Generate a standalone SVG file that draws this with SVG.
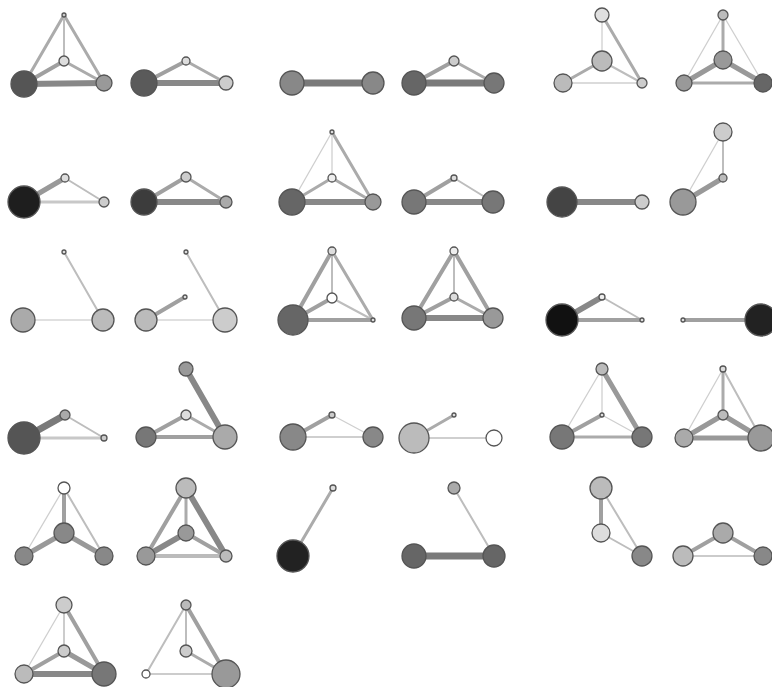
<svg xmlns="http://www.w3.org/2000/svg" width="772" height="687" viewBox="0 0 772 687">
<style>
line{stroke-linecap:round;fill:none}
.e1{stroke:#cfcfcf;stroke-width:1.3}
.e2{stroke:#bdbdbd;stroke-width:2}
.e3{stroke:#ababab;stroke-width:3}
.e4{stroke:#a0a0a0;stroke-width:4}
.e5{stroke:#999;stroke-width:5}
.e6{stroke:#888;stroke-width:6}
.e7{stroke:#7a7a7a;stroke-width:7}
circle{stroke:#555;stroke-width:1.3}
</style>
<rect width="772" height="687" fill="#fff"/>
<g id="connectors">
<!-- 1a -->
<line class="e6" x1="24" y1="84" x2="104" y2="83"/><line class="e3" x1="24" y1="84" x2="64" y2="15"/><line class="e3" x1="64" y1="15" x2="104" y2="83"/><line class="e2" x1="64" y1="15" x2="64" y2="61"/><line class="e4" x1="24" y1="84" x2="64" y2="61"/><line class="e3" x1="64" y1="61" x2="104" y2="83"/>
<!-- 1b -->
<line class="e6" x1="144" y1="83" x2="226" y2="83"/><line class="e4" x1="144" y1="83" x2="186" y2="61"/><line class="e3" x1="186" y1="61" x2="226" y2="83"/>
<!-- 1c -->
<line class="e7" x1="292" y1="83" x2="373" y2="83"/>
<!-- 1d -->
<line class="e7" x1="414" y1="83" x2="494" y2="83"/><line class="e4" x1="414" y1="83" x2="454" y2="61"/><line class="e3" x1="454" y1="61" x2="494" y2="83"/>
<!-- 1e -->
<line class="e1" x1="602" y1="15" x2="602" y2="61"/><line class="e3" x1="602" y1="15" x2="642" y2="83"/><line class="e3" x1="602" y1="61" x2="563" y2="83"/><line class="e2" x1="602" y1="61" x2="642" y2="83"/><line class="e1" x1="563" y1="83" x2="642" y2="83"/>
<!-- 1f -->
<line class="e1" x1="723" y1="15" x2="684" y2="83"/><line class="e1" x1="723" y1="15" x2="763" y2="83"/><line class="e3" x1="723" y1="15" x2="723" y2="60"/><line class="e5" x1="723" y1="60" x2="684" y2="83"/><line class="e5" x1="723" y1="60" x2="763" y2="83"/><line class="e3" x1="684" y1="83" x2="763" y2="83"/>
<!-- 2a -->
<line class="e5" x1="24" y1="202" x2="65" y2="178"/><line class="e2" x1="65" y1="178" x2="104" y2="202"/><line class="e3" x1="24" y1="202" x2="104" y2="202" style="stroke:#c8c8c8"/>
<!-- 2b -->
<line class="e6" x1="144" y1="202" x2="226" y2="202"/><line class="e4" x1="144" y1="202" x2="186" y2="177"/><line class="e3" x1="186" y1="177" x2="226" y2="202"/>
<!-- 2c -->
<line class="e1" x1="332" y1="132" x2="292" y2="202"/><line class="e3" x1="332" y1="132" x2="373" y2="202"/><line class="e1" x1="332" y1="132" x2="332" y2="178"/><line class="e3" x1="292" y1="202" x2="332" y2="178"/><line class="e3" x1="332" y1="178" x2="373" y2="202"/><line class="e6" x1="292" y1="202" x2="373" y2="202"/>
<!-- 2d -->
<line class="e6" x1="414" y1="202" x2="493" y2="202"/><line class="e4" x1="414" y1="202" x2="454" y2="178"/><line class="e2" x1="454" y1="178" x2="493" y2="202"/>
<!-- 2e -->
<line class="e6" x1="562" y1="202" x2="642" y2="202"/>
<!-- 2f -->
<line class="e1" x1="723" y1="132" x2="683" y2="202"/><line class="e2" x1="723" y1="132" x2="723" y2="178"/><line class="e5" x1="683" y1="202" x2="723" y2="178"/>
<!-- 3a -->
<line class="e2" x1="23" y1="320" x2="103" y2="320" style="stroke:#e0e0e0"/><line class="e2" x1="64" y1="252" x2="103" y2="320"/>
<!-- 3b -->
<line class="e2" x1="146" y1="320" x2="225" y2="320" style="stroke:#e0e0e0"/><line class="e2" x1="186" y1="252" x2="225" y2="320"/><line class="e4" x1="146" y1="320" x2="185" y2="297"/>
<!-- 3c -->
<line class="e4" x1="332" y1="251" x2="293" y2="320"/><line class="e3" x1="332" y1="251" x2="373" y2="320"/><line class="e2" x1="332" y1="251" x2="332" y2="298"/><line class="e4" x1="293" y1="320" x2="332" y2="298"/><line class="e2" x1="332" y1="298" x2="373" y2="320"/><line class="e4" x1="293" y1="320" x2="373" y2="320"/>
<!-- 3d -->
<line class="e4" x1="454" y1="251" x2="414" y2="318"/><line class="e4" x1="454" y1="251" x2="493" y2="318"/><line class="e2" x1="454" y1="251" x2="454" y2="297"/><line class="e4" x1="414" y1="318" x2="454" y2="297"/><line class="e3" x1="454" y1="297" x2="493" y2="318"/><line class="e6" x1="414" y1="318" x2="493" y2="318"/>
<!-- 3e -->
<line class="e6" x1="562" y1="320" x2="602" y2="297"/><line class="e2" x1="602" y1="297" x2="642" y2="320"/><line class="e4" x1="562" y1="320" x2="642" y2="320"/>
<!-- 3f -->
<line class="e4" x1="683" y1="320" x2="761" y2="320"/>
<!-- 4a -->
<line class="e7" x1="24" y1="438" x2="65" y2="415"/><line class="e2" x1="65" y1="415" x2="104" y2="438"/><line class="e3" x1="24" y1="438" x2="104" y2="438" style="stroke:#c8c8c8"/>
<!-- 4b -->
<line class="e6" x1="186" y1="369" x2="225" y2="437"/><line class="e4" x1="146" y1="437" x2="186" y2="415"/><line class="e3" x1="186" y1="415" x2="225" y2="437"/><line class="e4" x1="146" y1="437" x2="225" y2="437"/>
<!-- 4c -->
<line class="e4" x1="293" y1="437" x2="332" y2="415"/><line class="e1" x1="332" y1="415" x2="373" y2="437"/><line class="e2" x1="293" y1="437" x2="373" y2="437" style="stroke:#cfcfcf"/>
<!-- 4d -->
<line class="e3" x1="414" y1="438" x2="454" y2="415"/><line class="e2" x1="414" y1="438" x2="494" y2="438" style="stroke:#cfcfcf"/>
<!-- 4e -->
<line class="e1" x1="602" y1="369" x2="562" y2="437"/><line class="e5" x1="602" y1="369" x2="642" y2="437"/><line class="e1" x1="602" y1="369" x2="602" y2="415"/><line class="e4" x1="562" y1="437" x2="602" y2="415"/><line class="e1" x1="602" y1="415" x2="642" y2="437"/><line class="e3" x1="562" y1="437" x2="642" y2="437"/>
<!-- 4f -->
<line class="e1" x1="723" y1="369" x2="684" y2="438"/><line class="e2" x1="723" y1="369" x2="761" y2="438"/><line class="e3" x1="723" y1="369" x2="723" y2="415"/><line class="e5" x1="684" y1="438" x2="723" y2="415"/><line class="e5" x1="723" y1="415" x2="761" y2="438"/><line class="e5" x1="684" y1="438" x2="761" y2="438"/>
<!-- 5a -->
<line class="e1" x1="64" y1="488" x2="24" y2="556"/><line class="e2" x1="64" y1="488" x2="104" y2="556"/><line class="e4" x1="64" y1="488" x2="64" y2="533"/><line class="e5" x1="64" y1="533" x2="24" y2="556"/><line class="e5" x1="64" y1="533" x2="104" y2="556"/>
<!-- 5b -->
<line class="e4" x1="186" y1="488" x2="146" y2="556"/><line class="e6" x1="186" y1="488" x2="226" y2="556"/><line class="e3" x1="186" y1="488" x2="186" y2="533"/><line class="e6" x1="186" y1="533" x2="146" y2="556"/><line class="e4" x1="186" y1="533" x2="226" y2="556"/><line class="e4" x1="146" y1="556" x2="226" y2="556" style="stroke:#bbb"/>
<!-- 5c -->
<line class="e3" x1="333" y1="488" x2="293" y2="556"/>
<!-- 5d -->
<line class="e7" x1="414" y1="556" x2="494" y2="556"/><line class="e2" x1="454" y1="488" x2="494" y2="556"/>
<!-- 5e -->
<line class="e4" x1="601" y1="488" x2="601" y2="533"/><line class="e2" x1="601" y1="488" x2="642" y2="556"/><line class="e2" x1="601" y1="533" x2="642" y2="556"/>
<!-- 5f -->
<line class="e4" x1="683" y1="556" x2="723" y2="533"/><line class="e4" x1="723" y1="533" x2="763" y2="556"/><line class="e1" x1="683" y1="556" x2="763" y2="556" style="stroke:#bbb"/>
<!-- 6a -->
<line class="e1" x1="64" y1="605" x2="24" y2="674"/><line class="e4" x1="64" y1="605" x2="104" y2="674"/><line class="e2" x1="64" y1="605" x2="64" y2="651" style="stroke:#ccc"/><line class="e4" x1="24" y1="674" x2="64" y2="651"/><line class="e5" x1="64" y1="651" x2="104" y2="674"/><line class="e6" x1="24" y1="674" x2="104" y2="674"/>
<!-- 6b -->
<line class="e2" x1="186" y1="605" x2="146" y2="674"/><line class="e4" x1="186" y1="605" x2="226" y2="674"/><line class="e2" x1="186" y1="605" x2="186" y2="651"/><line class="e3" x1="186" y1="651" x2="226" y2="674"/><line class="e2" x1="146" y1="674" x2="226" y2="674" style="stroke:#ccc"/>
</g>
<!-- nodes -->
<g id="n1a-1"><circle cx="24" cy="84" r="13" fill="#555"/></g>
<g id="n1a-2"><circle cx="104" cy="83" r="8" fill="#999"/></g>
<g id="n1a-3"><circle cx="64" cy="61" r="5" fill="#ddd"/></g>
<g id="n1a-4"><circle cx="64" cy="15" r="2" fill="#ccc"/></g>
<g id="n1b-1"><circle cx="144" cy="83" r="13" fill="#5a5a5a"/></g>
<g id="n1b-2"><circle cx="186" cy="61" r="4" fill="#ddd"/></g>
<g id="n1b-3"><circle cx="226" cy="83" r="7" fill="#ccc"/></g>
<g id="n1c-1"><circle cx="292" cy="83" r="12" fill="#888"/></g>
<g id="n1c-2"><circle cx="373" cy="83" r="11" fill="#888"/></g>
<g id="n1d-1"><circle cx="414" cy="83" r="12" fill="#666"/></g>
<g id="n1d-2"><circle cx="494" cy="83" r="10" fill="#777"/></g>
<g id="n1d-3"><circle cx="454" cy="61" r="5" fill="#ccc"/></g>
<g id="n1e-1"><circle cx="602" cy="15" r="7" fill="#e0e0e0"/></g>
<g id="n1e-2"><circle cx="602" cy="61" r="10" fill="#bbb"/></g>
<g id="n1e-3"><circle cx="563" cy="83" r="9" fill="#bbb"/></g>
<g id="n1e-4"><circle cx="642" cy="83" r="5" fill="#ccc"/></g>
<g id="n1f-1"><circle cx="723" cy="15" r="5" fill="#bbb"/></g>
<g id="n1f-2"><circle cx="723" cy="60" r="9" fill="#999"/></g>
<g id="n1f-3"><circle cx="684" cy="83" r="8" fill="#999"/></g>
<g id="n1f-4"><circle cx="763" cy="83" r="9" fill="#666"/></g>
<g id="n2a-1"><circle cx="24" cy="202" r="16" fill="#1e1e1e"/></g>
<g id="n2a-2"><circle cx="65" cy="178" r="4" fill="#ddd"/></g>
<g id="n2a-3"><circle cx="104" cy="202" r="5" fill="#ccc"/></g>
<g id="n2b-1"><circle cx="144" cy="202" r="13" fill="#3c3c3c"/></g>
<g id="n2b-2"><circle cx="186" cy="177" r="5" fill="#ccc"/></g>
<g id="n2b-3"><circle cx="226" cy="202" r="6" fill="#aaa"/></g>
<g id="n2c-1"><circle cx="292" cy="202" r="13" fill="#666"/></g>
<g id="n2c-2"><circle cx="373" cy="202" r="8" fill="#999"/></g>
<g id="n2c-3"><circle cx="332" cy="178" r="4" fill="#eee"/></g>
<g id="n2c-4"><circle cx="332" cy="132" r="2" fill="#ddd"/></g>
<g id="n2d-1"><circle cx="414" cy="202" r="12" fill="#777"/></g>
<g id="n2d-2"><circle cx="493" cy="202" r="11" fill="#777"/></g>
<g id="n2d-3"><circle cx="454" cy="178" r="3" fill="#ddd"/></g>
<g id="n2e-1"><circle cx="562" cy="202" r="15" fill="#444"/></g>
<g id="n2e-2"><circle cx="642" cy="202" r="7" fill="#ccc"/></g>
<g id="n2f-1"><circle cx="723" cy="132" r="9" fill="#ccc"/></g>
<g id="n2f-2"><circle cx="723" cy="178" r="4" fill="#bbb"/></g>
<g id="n2f-3"><circle cx="683" cy="202" r="13" fill="#999"/></g>
<g id="n3a-1"><circle cx="23" cy="320" r="12" fill="#aaa"/></g>
<g id="n3a-2"><circle cx="103" cy="320" r="11" fill="#bbb"/></g>
<g id="n3a-3"><circle cx="64" cy="252" r="2" fill="#ddd"/></g>
<g id="n3b-1"><circle cx="146" cy="320" r="11" fill="#bbb"/></g>
<g id="n3b-2"><circle cx="225" cy="320" r="12" fill="#ccc"/></g>
<g id="n3b-3"><circle cx="186" cy="252" r="2" fill="#ddd"/></g>
<g id="n3b-4"><circle cx="185" cy="297" r="2" fill="#ddd"/></g>
<g id="n3c-1"><circle cx="293" cy="320" r="15" fill="#666"/></g>
<g id="n3c-2"><circle cx="373" cy="320" r="2" fill="#ddd"/></g>
<g id="n3c-3"><circle cx="332" cy="251" r="4" fill="#ddd"/></g>
<g id="n3c-4"><circle cx="332" cy="298" r="5" fill="#fff"/></g>
<g id="n3d-1"><circle cx="414" cy="318" r="12" fill="#777"/></g>
<g id="n3d-2"><circle cx="493" cy="318" r="10" fill="#999"/></g>
<g id="n3d-3"><circle cx="454" cy="251" r="4" fill="#eee"/></g>
<g id="n3d-4"><circle cx="454" cy="297" r="4" fill="#ddd"/></g>
<g id="n3e-1"><circle cx="562" cy="320" r="16" fill="#111"/></g>
<g id="n3e-2"><circle cx="602" cy="297" r="3" fill="#eee"/></g>
<g id="n3e-3"><circle cx="642" cy="320" r="2" fill="#ddd"/></g>
<g id="n3f-1"><circle cx="761" cy="320" r="16" fill="#222"/></g>
<g id="n3f-2"><circle cx="683" cy="320" r="2" fill="#ddd"/></g>
<g id="n4a-1"><circle cx="24" cy="438" r="16" fill="#555"/></g>
<g id="n4a-2"><circle cx="65" cy="415" r="5" fill="#aaa"/></g>
<g id="n4a-3"><circle cx="104" cy="438" r="3" fill="#ccc"/></g>
<g id="n4b-1"><circle cx="146" cy="437" r="10" fill="#777"/></g>
<g id="n4b-2"><circle cx="225" cy="437" r="12" fill="#aaa"/></g>
<g id="n4b-3"><circle cx="186" cy="415" r="5" fill="#ddd"/></g>
<g id="n4b-4"><circle cx="186" cy="369" r="7" fill="#999"/></g>
<g id="n4c-1"><circle cx="293" cy="437" r="13" fill="#888"/></g>
<g id="n4c-2"><circle cx="373" cy="437" r="10" fill="#888"/></g>
<g id="n4c-3"><circle cx="332" cy="415" r="3" fill="#ccc"/></g>
<g id="n4d-1"><circle cx="414" cy="438" r="15" fill="#bbb"/></g>
<g id="n4d-2"><circle cx="454" cy="415" r="2" fill="#ddd"/></g>
<g id="n4d-3"><circle cx="494" cy="438" r="8" fill="#fff"/></g>
<g id="n4e-1"><circle cx="602" cy="369" r="6" fill="#bbb"/></g>
<g id="n4e-2"><circle cx="602" cy="415" r="2" fill="#ddd"/></g>
<g id="n4e-3"><circle cx="562" cy="437" r="12" fill="#777"/></g>
<g id="n4e-4"><circle cx="642" cy="437" r="10" fill="#777"/></g>
<g id="n4f-1"><circle cx="723" cy="369" r="3" fill="#ddd"/></g>
<g id="n4f-2"><circle cx="723" cy="415" r="5" fill="#bbb"/></g>
<g id="n4f-3"><circle cx="684" cy="438" r="9" fill="#aaa"/></g>
<g id="n4f-4"><circle cx="761" cy="438" r="13" fill="#999"/></g>
<g id="n5a-1"><circle cx="64" cy="488" r="6" fill="#fff"/></g>
<g id="n5a-2"><circle cx="64" cy="533" r="10" fill="#888"/></g>
<g id="n5a-3"><circle cx="24" cy="556" r="9" fill="#888"/></g>
<g id="n5a-4"><circle cx="104" cy="556" r="9" fill="#888"/></g>
<g id="n5b-1"><circle cx="186" cy="488" r="10" fill="#bbb"/></g>
<g id="n5b-2"><circle cx="186" cy="533" r="8" fill="#999"/></g>
<g id="n5b-3"><circle cx="146" cy="556" r="9" fill="#999"/></g>
<g id="n5b-4"><circle cx="226" cy="556" r="6" fill="#bbb"/></g>
<g id="n5c-1"><circle cx="333" cy="488" r="3" fill="#ddd"/></g>
<g id="n5c-2"><circle cx="293" cy="556" r="16" fill="#222"/></g>
<g id="n5d-1"><circle cx="454" cy="488" r="6" fill="#aaa"/></g>
<g id="n5d-2"><circle cx="414" cy="556" r="12" fill="#666"/></g>
<g id="n5d-3"><circle cx="494" cy="556" r="11" fill="#666"/></g>
<g id="n5e-1"><circle cx="601" cy="488" r="11" fill="#bbb"/></g>
<g id="n5e-2"><circle cx="601" cy="533" r="9" fill="#ddd"/></g>
<g id="n5e-3"><circle cx="642" cy="556" r="10" fill="#888"/></g>
<g id="n5f-1"><circle cx="683" cy="556" r="10" fill="#bbb"/></g>
<g id="n5f-2"><circle cx="723" cy="533" r="10" fill="#aaa"/></g>
<g id="n5f-3"><circle cx="763" cy="556" r="9" fill="#888"/></g>
<g id="n6a-1"><circle cx="64" cy="605" r="8" fill="#ccc"/></g>
<g id="n6a-2"><circle cx="64" cy="651" r="6" fill="#ccc"/></g>
<g id="n6a-3"><circle cx="24" cy="674" r="9" fill="#bbb"/></g>
<g id="n6a-4"><circle cx="104" cy="674" r="12" fill="#777"/></g>
<g id="n6b-1"><circle cx="186" cy="605" r="5" fill="#bbb"/></g>
<g id="n6b-2"><circle cx="186" cy="651" r="6" fill="#ccc"/></g>
<g id="n6b-3"><circle cx="146" cy="674" r="4" fill="#fff"/></g>
<g id="n6b-4"><circle cx="226" cy="674" r="14" fill="#999"/></g>
</svg>
